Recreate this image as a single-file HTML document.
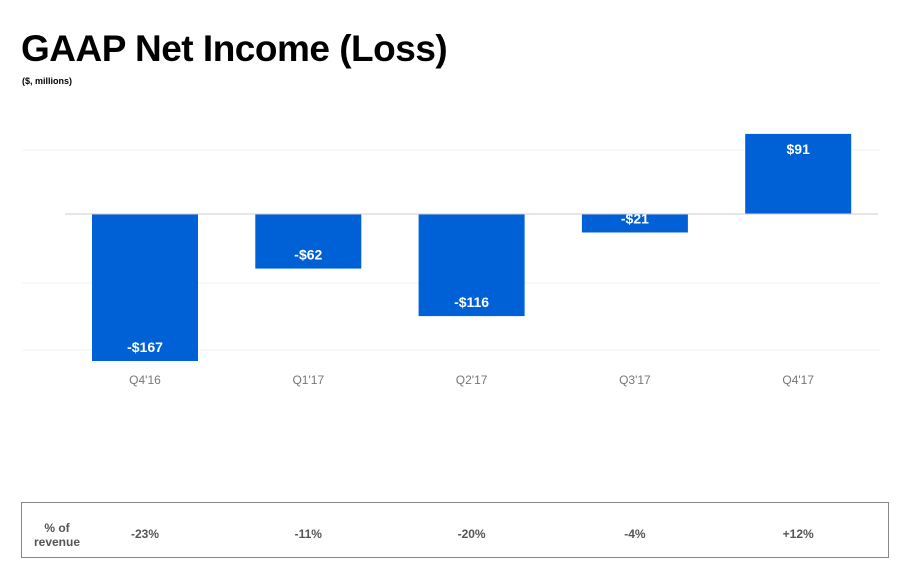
<!DOCTYPE html>
<html><head><meta charset="utf-8"><style>
body{margin:0;background:#fff;font-family:"Liberation Sans",sans-serif;}
.t{position:absolute;left:21px;top:28px;font-size:37px;font-weight:bold;color:#000;margin:0;letter-spacing:-0.5px}
.s{position:absolute;left:22px;top:76px;font-size:9px;font-weight:bold;color:#000}
.box{position:absolute;left:21px;top:502px;width:866px;height:54px;border:1px solid #888;}
.c{position:absolute;font-size:12px;font-weight:bold;color:#555;text-align:center}
</style></head><body>
<h1 class="t">GAAP Net Income (Loss)</h1>
<div class="s">($, millions)</div>
<svg id="ch" width="905" height="400" style="position:absolute;left:0;top:0"></svg>
<div class="box">
<div class="c" style="left:10px;top:18px;width:50px;line-height:14px">% of<br>revenue</div>
</div>
<script>
const categories=["Q4'16","Q1'17","Q2'17","Q3'17","Q4'17"];
const values=[-167,-62,-116,-21,91];
const valueLabels=["-$167","-$62","-$116","-$21","$91"];
const pctLabels=["-23%","-11%","-20%","-4%","+12%"];
const NS="http://www.w3.org/2000/svg";
const svg=document.getElementById('ch');
const y0=214,k=147/167;
const y=v=>y0-v*k;
const x=i=>145+i*163.3;
const bw=106;
function mk(t,a){const e=document.createElementNS(NS,t);for(const n in a)e.setAttribute(n,a[n]);svg.appendChild(e);return e;}
[150,283,350].forEach(g=>{const l=mk('line',{x1:22,x2:880,y1:g,y2:g,stroke:'#f3f3f3','stroke-width':1});

});
values.forEach((v,i)=>{
 const top=Math.min(y(v),y0),h=Math.abs(y(v)-y0);
 const r=mk('rect',{x:x(i)-bw/2,y:top,width:bw,height:h,fill:'#0060d6'});
 
 
 const ly=v<0?y(v)-9:y(v)+20;
 const t=mk('text',{x:x(i),y:ly,'text-anchor':'middle',fill:'#fff','font-size':14,'font-weight':'bold','font-family':'Liberation Sans'});
 t.textContent=valueLabels[i];
 
 
 const c=mk('text',{x:x(i),y:384,'text-anchor':'middle',fill:'#777','font-size':12,'font-family':'Liberation Sans'});
 c.textContent=categories[i];
 
 
 const d=document.createElement('div');d.className='c';
 d.style.left=(x(i)-22-50)+'px';d.style.top='24px';d.style.width='100px';
 d.textContent=pctLabels[i];
 
 
 document.querySelector('.box').appendChild(d);
});
const zl=mk('line',{x1:65,x2:878,y1:y0,y2:y0,stroke:'#ccc','stroke-width':1});


</script>
</body></html>
